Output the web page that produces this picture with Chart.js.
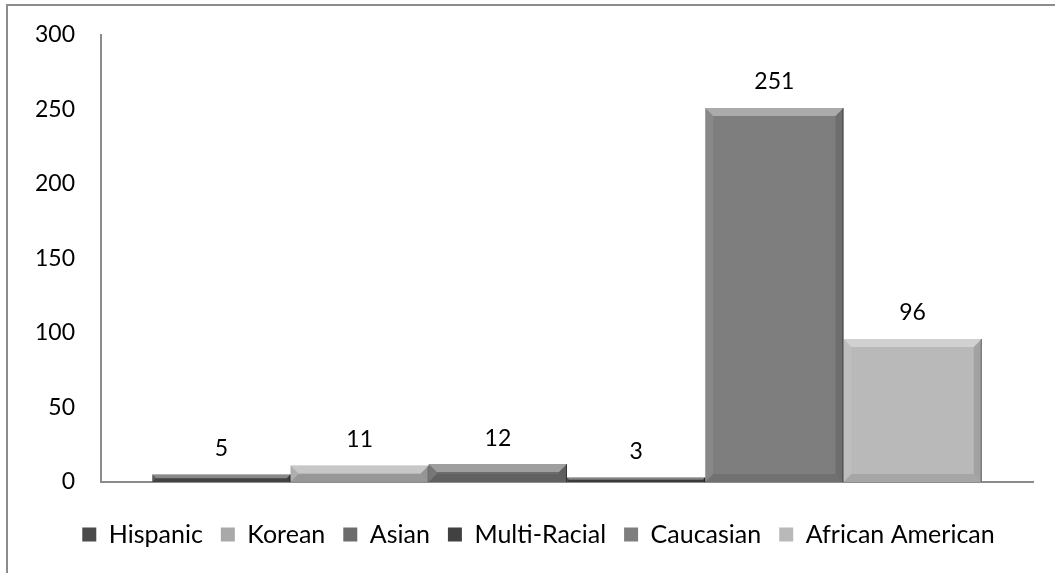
<!DOCTYPE html>
<html>
<head>
<meta charset="utf-8">
<script src="https://cdn.jsdelivr.net/npm/chart.js@4/dist/chart.umd.min.js"></script>
<style>
  html, body { margin: 0; padding: 0; background: #fff; }
  #wrap { position: relative; width: 1055px; height: 573px; overflow: hidden; }
  canvas { display: block; }
</style>
</head>
<body>
<div id="wrap"><canvas id="c" width="1055" height="573"></canvas></div>
<script>
// ---- data ----
const categories = [''];
const seriesNames = ['Hispanic', 'Korean', 'Asian', 'Multi-Racial', 'Caucasian', 'African American'];
const seriesValues = [5, 11, 12, 3, 251, 96];
const yMin = 0, yMax = 300, yStep = 50;

// ---- styles ----
const barColors = ['#4b4b4b', '#a9a9a9', '#6c6c6c', '#414141', '#7e7e7e', '#b9b9b9'];
const FONT = 'Lato, "Open Sans", sans-serif';
const FS = 23;
const LFS = 25;
const LEGEND_SHIFT = 22;

const bevelPlugin = {
  id: 'bevel',
  afterDatasetsDraw(chart) {
    const ctx = chart.ctx;
    chart.data.datasets.forEach((ds, i) => {
      const meta = chart.getDatasetMeta(i);
      meta.data.forEach(bar => {
        const l = bar.x - bar.width / 2, r = bar.x + bar.width / 2;
        const t = Math.min(bar.y, bar.base), b = Math.max(bar.y, bar.base);
        const h = b - t;
        const bv = Math.min(8, h / 2);
        ctx.save();
        ctx.fillStyle = 'rgba(255,255,255,0.35)';
        ctx.beginPath(); ctx.moveTo(l, t); ctx.lineTo(r, t); ctx.lineTo(r - bv, t + bv); ctx.lineTo(l + bv, t + bv); ctx.closePath(); ctx.fill();
        ctx.fillStyle = 'rgba(255,255,255,0.08)';
        ctx.beginPath(); ctx.moveTo(l, t); ctx.lineTo(l + bv, t + bv); ctx.lineTo(l + bv, b - bv); ctx.lineTo(l, b); ctx.closePath(); ctx.fill();
        ctx.fillStyle = 'rgba(0,0,0,0.12)';
        ctx.beginPath(); ctx.moveTo(r, t); ctx.lineTo(r - bv, t + bv); ctx.lineTo(r - bv, b - bv); ctx.lineTo(r, b); ctx.closePath(); ctx.fill();
        ctx.fillStyle = 'rgba(0,0,0,0.10)';
        ctx.beginPath(); ctx.moveTo(l, b); ctx.lineTo(l + bv, b - bv); ctx.lineTo(r - bv, b - bv); ctx.lineTo(r, b); ctx.closePath(); ctx.fill();
        ctx.strokeStyle = 'rgba(0,0,0,0.45)';
        ctx.lineWidth = 1;
        ctx.beginPath(); ctx.moveTo(r - 0.5, t); ctx.lineTo(r - 0.5, b); ctx.stroke();
        ctx.restore();
      });
    });
  }
};

const labelPlugin = {
  id: 'valueLabels',
  afterDatasetsDraw(chart) {
    const ctx = chart.ctx;
    ctx.save();
    ctx.font = FS + 'px ' + FONT;
    ctx.fillStyle = '#000';
    ctx.textAlign = 'center';
    ctx.textBaseline = 'middle';
    chart.data.datasets.forEach((ds, i) => {
      const meta = chart.getDatasetMeta(i);
      meta.data.forEach((bar, j) => {
        ctx.fillText(String(ds.data[j]), bar.x, bar.y - 26);
      });
    });
    ctx.restore();
  }
};

const legendShiftPlugin = {
  id: 'legendShift',
  afterLayout(chart) {
    const lg = chart.legend;
    if (lg) { lg.left += LEGEND_SHIFT; lg.right += LEGEND_SHIFT; }
  }
};

const borderPlugin = {
  id: 'outerBorder',
  afterDraw(chart) {
    const ctx = chart.ctx;
    ctx.save();
    ctx.strokeStyle = '#8c8c8c';
    ctx.lineWidth = 2;
    ctx.strokeRect(7, 5, 1100, 620);
    ctx.restore();
  }
};

new Chart(document.getElementById('c'), {
  type: 'bar',
  data: {
    labels: categories,
    datasets: seriesNames.map((name, i) => ({
      label: name,
      data: [seriesValues[i]],
      backgroundColor: barColors[i],
      borderWidth: 0,
      categoryPercentage: 0.89,
      barPercentage: 1.0
    }))
  },
  options: {
    responsive: false,
    animation: false,
    devicePixelRatio: 1,
    layout: { padding: { top: 35, right: 22, left: 0, bottom: 16 } },
    plugins: {
      legend: {
        position: 'bottom',
        labels: {
          boxWidth: 14,
          boxHeight: 14,
          padding: 18,
          color: '#000',
          font: { family: FONT, size: LFS }
        }
      },
      tooltip: { enabled: false },
      title: { display: false }
    },
    scales: {
      x: {
        ticks: { display: false },
        grid: { display: false, drawTicks: false },
        border: { display: true, color: '#8c8c8c', width: 2 },
        afterFit(scale) { scale.height = 22; }
      },
      y: {
        min: yMin, max: yMax,
        ticks: { stepSize: yStep, padding: 26, color: '#000', font: { family: FONT, size: FS } },
        grid: { display: false, drawTicks: false },
        border: { display: true, color: '#8c8c8c', width: 2 },
        afterFit(scale) { scale.width = 101; scale.paddingTop = 0; scale.paddingBottom = 0; }
      }
    }
  },
  plugins: [bevelPlugin, labelPlugin, legendShiftPlugin, borderPlugin]
});
</script>
</body>
</html>
